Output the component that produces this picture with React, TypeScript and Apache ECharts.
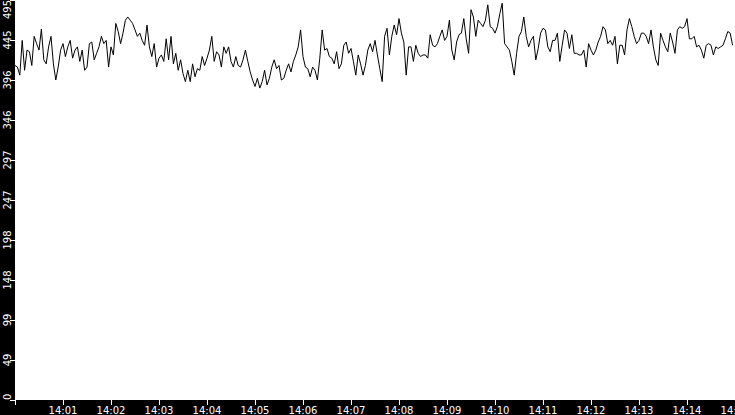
import React, { useEffect, useRef } from "react";
import * as echarts from "echarts";

// one sample every 3 s, starting 14:00:00
const startTime = new Date(2024, 0, 1, 14, 0, 0).getTime();
const endTime = startTime + 15 * 60 * 1000;
const stepMs = 3000;

const part1 = [
  414, 412, 402, 445, 408, 433, 431, 414, 450, 441, 433, 459, 421, 416, 437, 450, 416, 396, 412,
  433, 441, 425, 437, 445, 423, 433, 437, 419, 433, 408, 412, 441, 443, 421, 429, 437, 450,
];
const part2 = [
  441, 445, 412, 437, 427, 466, 456, 441, 454, 470, 474, 470, 466, 458, 450, 454, 445, 439, 464,
  437, 425, 441, 412, 423, 427, 419, 447, 421, 450, 416, 429, 408, 421, 404, 394, 408, 394, 416,
];
const part3 = [
  400, 410, 408, 425, 414, 423, 433, 450, 419, 431, 427, 412, 437, 429, 437, 419, 412, 425, 414,
  412, 421, 433, 419, 406, 396, 388, 398, 386, 394, 408, 390, 398, 412, 421, 410, 414, 396,
];
const part4 = [
  398, 408, 416, 406, 419, 427, 437, 458, 425, 412, 410, 400, 412, 408, 396, 423, 458, 433, 435,
  425, 423, 416, 431, 410, 416, 439, 443, 429, 435, 419, 402, 427, 416, 402, 414, 433, 441, 431,
];
const part5 = [
  445, 427, 410, 394, 450, 460, 427, 450, 464, 452, 472, 454, 443, 402, 437, 437, 419, 439, 429,
  425, 427, 427, 423, 452, 439, 437, 441, 450, 458, 445, 450, 470, 433, 421, 443, 452, 454,
];
const part6 = [
  472, 447, 429, 483, 474, 450, 470, 466, 462, 470, 489, 462, 460, 454, 462, 478, 491, 441, 437,
  433, 419, 402, 429, 450, 456, 474, 450, 437, 445, 450, 421, 435, 454, 460, 458, 437, 431, 445,
];
const part7 = [
  445, 454, 419, 439, 458, 454, 435, 452, 429, 429, 427, 427, 433, 412, 441, 433, 427, 433, 443,
  450, 462, 458, 441, 445, 439, 450, 416, 439, 439, 427, 458, 472, 462, 450, 441, 445, 454,
];
const part8 = [
  454, 450, 441, 458, 437, 421, 414, 454, 445, 437, 431, 454, 443, 429, 458, 462, 460, 462, 472,
  447, 447, 450, 437, 439, 433, 423, 439, 441, 439, 427, 437, 435, 437, 439, 447, 456, 454, 439,
];

const values = [...part1, ...part2, ...part3, ...part4, ...part5, ...part6, ...part7, ...part8];

const yMax = 495;
const yInterval = 49.5;

const App = () => {
  const chartRef = useRef<HTMLDivElement>(null);

  // eslint-disable-next-line consistent-return
  useEffect(() => {
    document.body.style.margin = "0";
    if (chartRef.current) {
      const chart = echarts.init(chartRef.current, null, { renderer: "svg" });
      const points = values.map((v, i) => [startTime + i * stepMs, v]);
      const labelFont = { color: "#fff", fontFamily: "DejaVu Sans", fontSize: 10 };
      const options: echarts.EChartsOption = {
        animation: false,
        backgroundColor: "#000",
        grid: {
          show: true,
          backgroundColor: "#fff",
          borderWidth: 0,
          left: 15,
          right: 0,
          top: 0,
          bottom: 15,
          outerBoundsMode: "none",
          containLabel: false,
        } as any,
        xAxis: {
          type: "time",
          min: startTime,
          max: endTime,
          minInterval: 60000,
          maxInterval: 60000,
          axisLine: { show: false },
          axisTick: { show: true, length: 5, lineStyle: { color: "#fff", width: 1 } },
          splitLine: { show: false },
          axisLabel: {
            ...labelFont,
            lineHeight: 10,
            margin: 5,
            formatter: (v: number) =>
              v <= startTime ? "" : echarts.time.format(v, "{HH}:{mm}", false),
            showMaxLabel: true,
            hideOverlap: false,
          },
        },
        yAxis: {
          type: "value",
          min: 0,
          max: yMax,
          interval: yInterval,
          axisLine: { show: false },
          axisTick: { show: true, length: 5, lineStyle: { color: "#fff", width: 1 } },
          splitLine: { show: false },
          axisLabel: {
            ...labelFont,
            rotate: 90,
            margin: 3,
            alignMinLabel: "left",
            alignMaxLabel: "right",
            formatter: (v: number) => String(Math.floor(v)),
          },
        },
        series: [
          {
            type: "line",
            data: points,
            showSymbol: false,
            symbol: "none",
            lineStyle: { color: "#000", width: 1 },
          },
        ],
      };
      chart.setOption(options);
      return () => {
        chart.dispose();
      };
    }
  }, []);

  return <div ref={chartRef} style={{ width: "735px", height: "415px" }} />;
};

export default App;
